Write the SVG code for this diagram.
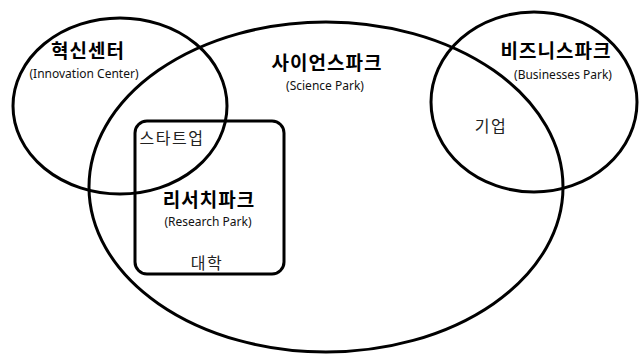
<svg xmlns="http://www.w3.org/2000/svg" width="639" height="355" viewBox="0 0 639 355">
<style>
.shape{fill:none;stroke:#000;stroke-width:3}
.ko{font-family:"Noto Sans CJK KR","Noto Sans",sans-serif;fill:#000;text-anchor:middle}
.title{font-size:19px;font-weight:bold;letter-spacing:1px}
.sub{font-family:"Noto Sans","Noto Sans CJK KR",sans-serif;font-size:12px;fill:#111;text-anchor:middle}
.lbl{font-size:16px;fill:#222;letter-spacing:1.5px}
</style>
<rect width="639" height="355" fill="#fff"/>
<g id="science-park">
<ellipse class="shape" cx="326" cy="187" rx="237" ry="165"/>
<text class="ko title" x="327" y="70">사이언스파크</text>
<text class="sub" x="325" y="90">(Science Park)</text>
</g>
<g id="innovation-center">
<ellipse class="shape" cx="120" cy="106" rx="107" ry="88"/>
<text class="ko title" x="88" y="58">혁신센터</text>
<text class="sub" x="84" y="78">(Innovation Center)</text>
</g>
<g id="business-park">
<ellipse class="shape" cx="534" cy="102" rx="103" ry="90"/>
<text class="ko title" x="556" y="58">비즈니스파크</text>
<text class="sub" x="563" y="79">(Businesses Park)</text>
<text class="ko lbl" x="491" y="132">기업</text>
</g>
<g id="research-park">
<rect class="shape" x="135" y="121" width="149" height="153" rx="12"/>
<text class="ko title" x="209" y="207">리서치파크</text>
<text class="sub" x="208" y="226">(Research Park)</text>
<text class="ko lbl" x="207" y="269">대학</text>
</g>
<g id="startup">
<text class="ko lbl" x="172" y="144">스타트업</text>
</g>
<g id="connectors"></g>
</svg>
